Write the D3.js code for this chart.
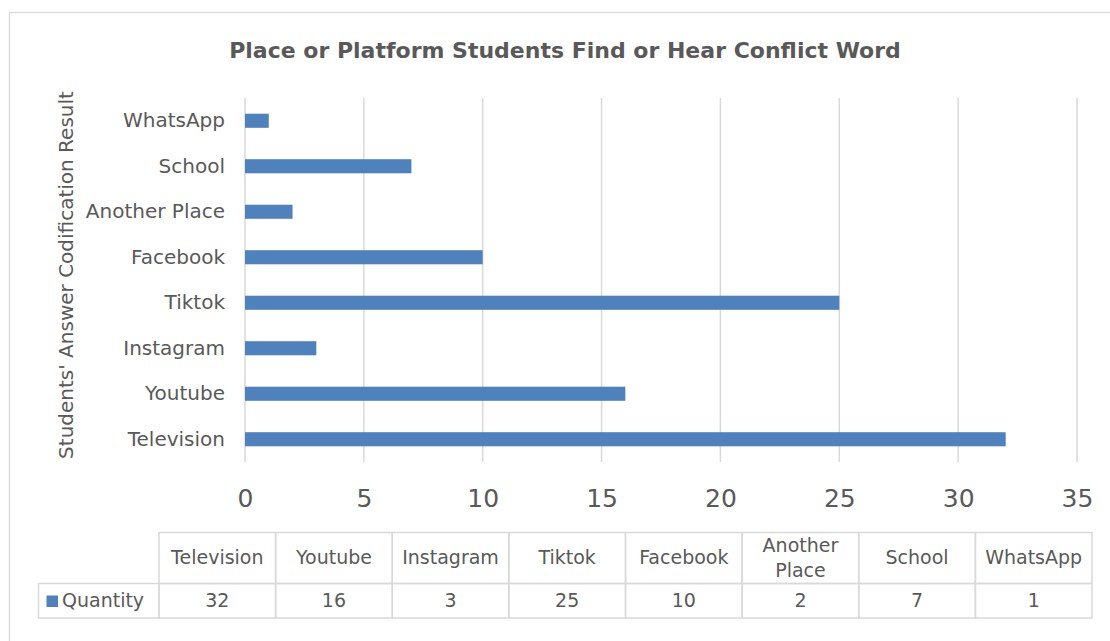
<!DOCTYPE html>
<html lang="en">
<head>
  <meta charset="UTF-8">
  <title>Place or Platform Students Find or Hear Conflict Word</title>
  <script src="https://d3js.org/d3.v7.min.js"></script>
  <style>
    body {
      margin: 0;
      background: #ffffff;
      font-family: "DejaVu Sans", sans-serif;
    }
    svg {
      display: block;
    }
  </style>
</head>
<body>
  <svg id="chart" width="1110" height="641"></svg>
  <script>
    // Chart data
    const categories = ["Television", "Youtube", "Instagram", "Tiktok", "Facebook", "Another Place", "School", "WhatsApp"];
    const quantities = [32, 16, 3, 25, 10, 2, 7, 1];
    const xTicks = [0, 5, 10, 15, 20, 25, 30, 35];
    const seriesName = "Quantity";

    const textColor = "#595959";
    const gridColor = "#d9d9d9";
    const barColor = "#4f81bd";

    const svg = d3.select("#chart");

    // outer chart border (runs past the viewport on right and bottom)
    svg.append("rect")
       .attr("x", 9.5)
       .attr("y", 12.5)
       .attr("width", 1120)
       .attr("height", 650)
       .attr("fill", "#fff")
       .attr("stroke", gridColor)
       .attr("stroke-width", 1.3);

    const plot = { left: 245, right: 1077, top: 98, bottom: 462 };

    const x = d3.scaleLinear()
                .domain([0, 35])
                .range([plot.left, plot.right]);

    // Television sits at the bottom
    const y = d3.scaleBand()
                .domain(categories)
                .range([plot.bottom, plot.top])
                .paddingInner(0.69)
                .paddingOuter(0.345);

    // title
    svg.append("text")
       .attr("x", 565)
       .attr("y", 58)
       .attr("text-anchor", "middle")
       .attr("font-size", 22)
       .attr("font-weight", "bold")
       .attr("fill", textColor)
       .text("Place or Platform Students Find or Hear Conflict Word");

    // vertical gridlines
    svg.append("g")
       .selectAll("line")
       .data(xTicks)
       .join("line")
       .attr("x1", d => x(d))
       .attr("x2", d => x(d))
       .attr("y1", plot.top)
       .attr("y2", plot.bottom)
       .attr("stroke", gridColor)
       .attr("stroke-width", 1.5);

    // x axis labels
    const xAxis = svg.append("g")
       .attr("transform", `translate(0, ${plot.bottom})`)
       .call(d3.axisBottom(x).tickValues(xTicks).tickSize(0).tickPadding(27));
    xAxis.select(".domain").remove();
    xAxis.selectAll("text")
         .attr("font-family", "DejaVu Sans")
         .attr("font-size", 25)
         .attr("fill", textColor);

    // y axis labels
    const yAxis = svg.append("g")
       .attr("transform", `translate(${plot.left}, 0)`)
       .call(d3.axisLeft(y).tickSize(0).tickPadding(20));
    yAxis.select(".domain").remove();
    yAxis.selectAll("text")
         .attr("font-family", "DejaVu Sans")
         .attr("font-size", 20)
         .attr("fill", textColor);

    // y axis title
    svg.append("text")
       .attr("transform", `translate(73, 275) rotate(-90)`)
       .attr("text-anchor", "middle")
       .attr("font-size", 20)
       .attr("fill", textColor)
       .text("Students' Answer Codification Result");

    // bars
    svg.append("g")
       .selectAll("rect")
       .data(categories)
       .join("rect")
       .attr("x", x(0))
       .attr("y", d => y(d))
       .attr("width", (d, i) => x(quantities[i]) - x(0))
       .attr("height", y.bandwidth())
       .attr("fill", barColor);

    // data table under the chart
    const table = { left: 38.5, colLeft: 159, right: 1092, top: 532.5, mid: 583.5, bottom: 618 };
    const col = d3.scaleBand()
                  .domain(categories)
                  .range([table.colLeft, table.right]);

    const tg = svg.append("g");

    // header cells
    tg.selectAll("rect.head")
      .data(categories)
      .join("rect")
      .attr("class", "head")
      .attr("x", d => col(d))
      .attr("y", table.top)
      .attr("width", col.bandwidth())
      .attr("height", table.mid - table.top)
      .attr("fill", "none")
      .attr("stroke", gridColor)
      .attr("stroke-width", 1.5);

    // value cells
    tg.selectAll("rect.val")
      .data(categories)
      .join("rect")
      .attr("class", "val")
      .attr("x", d => col(d))
      .attr("y", table.mid)
      .attr("width", col.bandwidth())
      .attr("height", table.bottom - table.mid)
      .attr("fill", "none")
      .attr("stroke", gridColor)
      .attr("stroke-width", 1.5);

    // legend cell
    tg.append("rect")
      .attr("x", table.left)
      .attr("y", table.mid)
      .attr("width", table.colLeft - table.left)
      .attr("height", table.bottom - table.mid)
      .attr("fill", "none")
      .attr("stroke", gridColor)
      .attr("stroke-width", 1.5);

    tg.append("rect")
      .attr("x", 46.5)
      .attr("y", 595.5)
      .attr("width", 11.5)
      .attr("height", 11.5)
      .attr("fill", barColor);

    tg.append("text")
      .attr("x", 62)
      .attr("y", 607)
      .attr("font-size", 19)
      .attr("fill", textColor)
      .text(seriesName);

    // header labels (long names wrap onto two lines)
    tg.selectAll("text.head")
      .data(categories)
      .join("text")
      .attr("class", "head")
      .attr("x", d => col(d) + col.bandwidth() / 2)
      .attr("y", 564)
      .attr("text-anchor", "middle")
      .attr("font-size", 19)
      .attr("fill", textColor)
      .each(function(d) {
        const words = d.split(" ");
        const t = d3.select(this);
        if (words.length > 1) {
          t.attr("y", 552);
          words.forEach((w, i) => {
            t.append("tspan")
             .attr("x", col(d) + col.bandwidth() / 2)
             .attr("dy", i === 0 ? 0 : 25)
             .text(w);
          });
        } else {
          t.text(d);
        }
      });

    // value labels
    tg.selectAll("text.val")
      .data(categories)
      .join("text")
      .attr("class", "val")
      .attr("x", d => col(d) + col.bandwidth() / 2)
      .attr("y", 607)
      .attr("text-anchor", "middle")
      .attr("font-size", 19)
      .attr("fill", textColor)
      .text((d, i) => quantities[i]);
  </script>
</body>
</html>
